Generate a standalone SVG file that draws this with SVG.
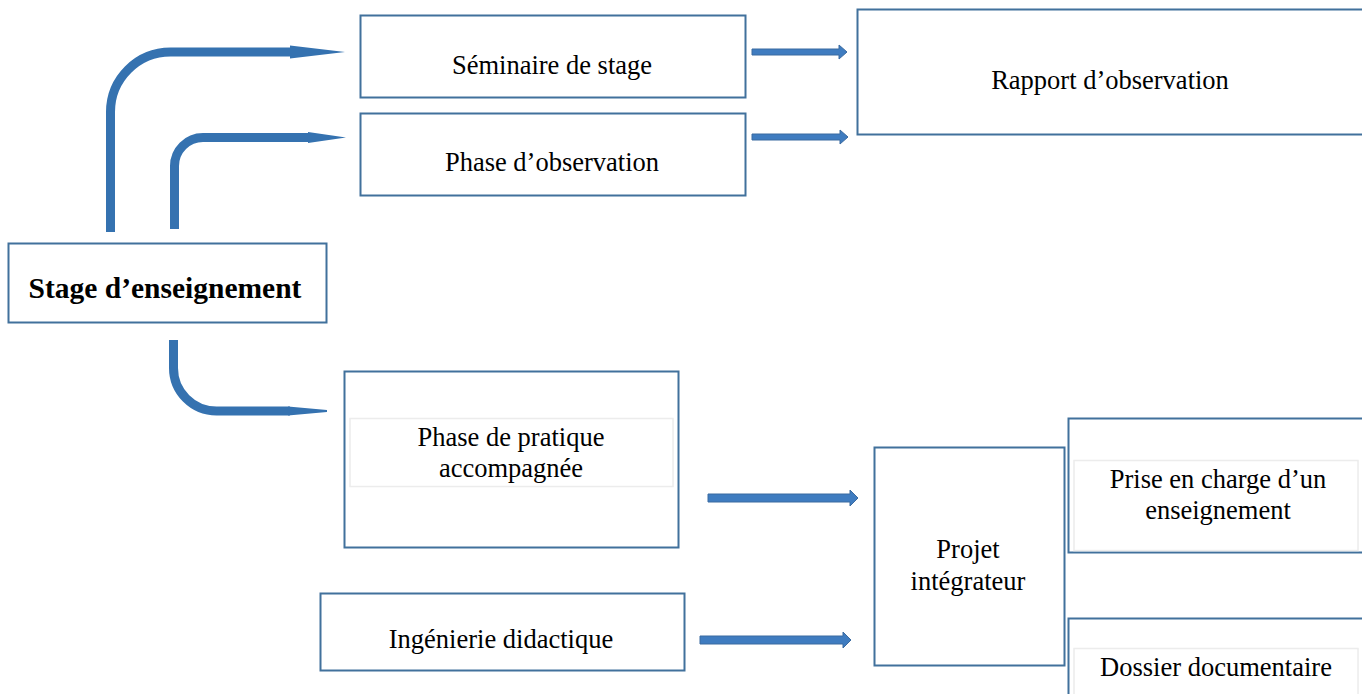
<svg xmlns="http://www.w3.org/2000/svg" width="1362" height="694" viewBox="0 0 1362 694">
<style>
.box{fill:#fff;stroke:#41719c;stroke-width:2}
.inner{fill:none;stroke:#ececec;stroke-width:1.5}
.t{font-family:"Liberation Serif","Times New Roman",serif;font-size:26.5px;fill:#000;text-anchor:middle}
.b{font-weight:bold;font-size:29.5px}
.curve{fill:none;stroke:#3572b0;stroke-width:9}
.head{fill:#3572b0}
.blk{fill:#3f7cc0;stroke:#3a6aa0;stroke-width:1}
</style>
<rect width="1362" height="694" fill="#fff"/>
<g id="connectors">
  <path class="curve" d="M110.5,232 V112 A60,60 0 0 1 170.5,52 H292"/>
  <polygon class="head" points="290,45.5 345,52 290,58.5"/>
  <path class="curve" d="M174.5,229 V166 A28.5,28.5 0 0 1 203,137.5 H310"/>
  <polygon class="head" points="308,132 346,137.5 308,143"/>
  <path class="curve" d="M173.5,340 V368 A43,43 0 0 0 216.5,411 H290"/>
  <polygon class="head" points="288,406.5 327,410 327,412 288,415.5"/>
  <polygon class="blk" points="752,49 839,49 839,45 847,52 839,59 839,55 752,55"/>
  <polygon class="blk" points="752,134 840,134 840,130 848,137 840,144 840,140 752,140"/>
  <polygon class="blk" points="708,494 850,494 850,490 858,498 850,506 850,502 708,502"/>
  <polygon class="blk" points="700,636 843,636 843,632 851,640 843,648 843,644 700,644"/>
</g>
<g id="stage">
  <rect class="box" x="8.5" y="243.5" width="318" height="79"/>
  <text class="t b" x="165" y="298">Stage d’enseignement</text>
</g>
<g id="seminaire">
  <rect class="box" x="360.5" y="15.5" width="385" height="82"/>
  <text class="t" x="552" y="74">Séminaire de stage</text>
</g>
<g id="observation">
  <rect class="box" x="360.5" y="113.5" width="385" height="82"/>
  <text class="t" x="552" y="171">Phase d’observation</text>
</g>
<g id="rapport">
  <rect class="box" x="857.5" y="9.5" width="510" height="125"/>
  <text class="t" x="1110" y="89">Rapport d’observation</text>
</g>
<g id="pratique">
  <rect class="box" x="344.5" y="371.5" width="334" height="176"/>
  <rect class="inner" x="350" y="418.5" width="323" height="68"/>
  <text class="t" x="511" y="446">Phase de pratique</text>
  <text class="t" x="511" y="477">accompagnée</text>
</g>
<g id="ingenierie">
  <rect class="box" x="320.5" y="593.5" width="364" height="77"/>
  <text class="t" x="501" y="648">Ingénierie didactique</text>
</g>
<g id="projet">
  <rect class="box" x="874.5" y="447.5" width="190" height="218"/>
  <text class="t" x="968" y="558">Projet</text>
  <text class="t" x="968" y="590">intégrateur</text>
</g>
<g id="prise">
  <rect class="box" x="1068.5" y="418.5" width="300" height="134"/>
  <rect class="inner" x="1074" y="460.5" width="284" height="90"/>
  <text class="t" x="1218" y="488">Prise en charge d’un</text>
  <text class="t" x="1218" y="519">enseignement</text>
</g>
<g id="dossier">
  <rect class="box" x="1068.5" y="618.5" width="300" height="90"/>
  <rect class="inner" x="1074" y="648.5" width="284" height="60"/>
  <text class="t" x="1216" y="676">Dossier documentaire</text>
</g>
</svg>
